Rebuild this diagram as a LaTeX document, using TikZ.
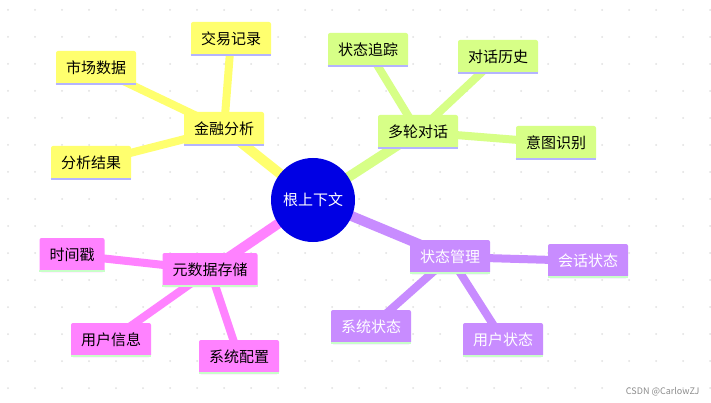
\documentclass[tikz,border=0pt]{standalone}
\usepackage{fontspec}
\setmainfont{Noto Sans CJK SC}
\usetikzlibrary{positioning}
\definecolor{yel}{RGB}{255,255,110}
\definecolor{grn}{RGB}{215,255,135}
\definecolor{pnk}{RGB}{255,130,255}
\definecolor{pur}{RGB}{200,140,255}
\definecolor{rootblue}{RGB}{0,0,228}
\definecolor{lav}{RGB}{180,180,255}
\definecolor{mint}{RGB}{200,255,200}
\pgfdeclarelayer{bg}
\pgfsetlayers{bg,main}
\tikzset{
  topic/.style={rectangle, rounded corners=2pt, minimum height=34pt, inner xsep=10pt, font=\fontsize{15}{15}\selectfont},
  yelbox/.style={topic, fill=yel, text=black},
  grnbox/.style={topic, fill=grn, text=black},
  pnkbox/.style={topic, fill=pnk, text=black},
  purbox/.style={topic, fill=pur, text=white},
  bar/.style={line width=2.5pt},
  link/.style={line width=8pt},
  trunk/.style={line width=10pt}
}
\newcommand{\topicbar}[2]{\draw[bar,#2] ([yshift=1pt]#1.south west) -- ([yshift=1pt]#1.south east);}
\begin{document}
\begin{tikzpicture}[x=1pt,y=-1pt]
\useasboundingbox (0,0) rectangle (711,403);
% root
\node[circle, fill=rootblue, text=white, minimum size=84pt, inner sep=0pt, font=\fontsize{15}{15}\selectfont] (root) at (313,200) {根上下文};
% main topics
\node[yelbox] (fin) at (224,129) {金融分析};
\node[grnbox] (dlg) at (418,132) {多轮对话};
\node[pnkbox] (meta) at (210,270) {元数据存储};
\node[purbox] (state) at (450,257) {状态管理};
% leaves
\node[yelbox] (trade) at (231,39) {交易记录};
\node[yelbox] (market) at (96,68) {市场数据};
\node[yelbox] (result) at (91,163) {分析结果};
\node[grnbox] (track) at (368,50) {状态追踪};
\node[grnbox] (hist) at (498,57) {对话历史};
\node[grnbox] (intent) at (556,143) {意图识别};
\node[pnkbox] (stamp) at (72,255) {时间戳};
\node[pnkbox] (user) at (111,340) {用户信息};
\node[pnkbox] (conf) at (239,357) {系统配置};
\node[purbox] (sess) at (588,261) {会话状态};
\node[purbox] (sys) at (371,327) {系统状态};
\node[purbox] (ustate) at (503,340) {用户状态};
% grid and connectors behind
\begin{pgfonlayer}{bg}
\fill[white] (0,0) rectangle (711,403);
\foreach \i in {0,...,26} \foreach \j in {0,...,15}
  \fill[black!12] (\i*27+8,\j*27+10) circle (1pt);
\draw[trunk,yel] (root.center) -- (fin.center);
\draw[trunk,grn] (root.center) -- (dlg.center);
\draw[trunk,pnk] (root.center) -- (meta.center);
\draw[trunk,pur] (root.center) -- (state.center);
\foreach \c in {trade,market,result} \draw[link,yel] (fin.center) -- (\c.center);
\foreach \c in {track,hist,intent} \draw[link,grn] (dlg.center) -- (\c.center);
\foreach \c in {stamp,user,conf} \draw[link,pnk] (meta.center) -- (\c.center);
\foreach \c in {sess,sys,ustate} \draw[link,pur] (state.center) -- (\c.center);
\end{pgfonlayer}
% underlines
\foreach \c in {fin,trade,market,result,dlg,track,hist,intent} {\topicbar{\c}{lav}}
\foreach \c in {meta,stamp,user,conf,state,sess,sys,ustate} {\topicbar{\c}{mint}}
\node[text=black!45, font=\fontsize{9}{9}\selectfont, anchor=east] (mark) at (703,392) {CSDN @CarlowZJ};
\end{tikzpicture}
\end{document}
